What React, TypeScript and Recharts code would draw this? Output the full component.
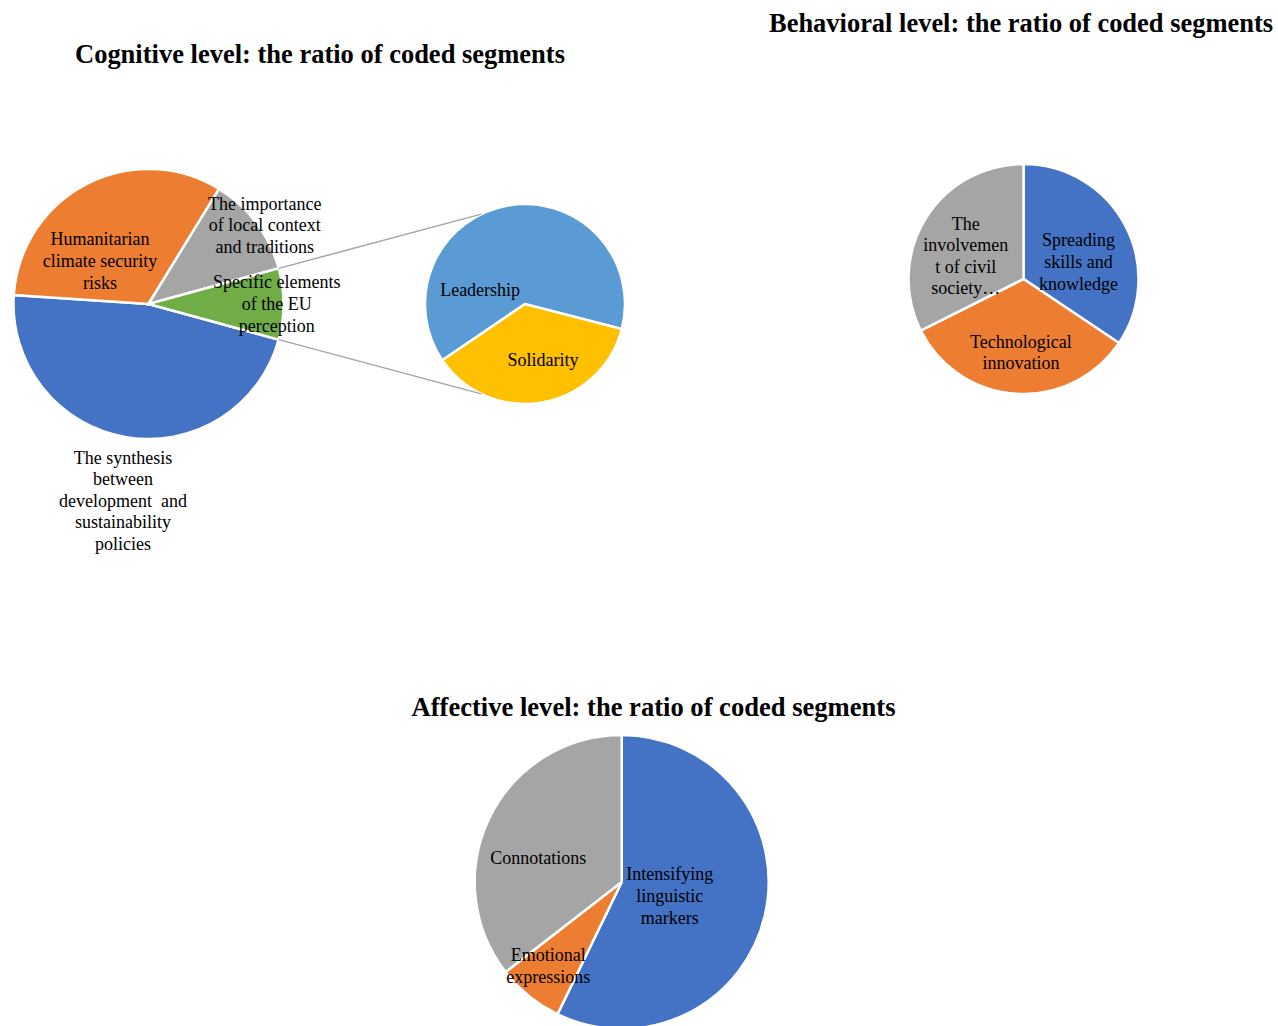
import React from "react"
import { Cell, Pie, PieChart } from "recharts"

// cognitive level (main pie, clockwise from the aggregated slice)
const cognitiveNames = [
  "The synthesis between development and sustainability policies",
  "Humanitarian climate security risks",
  "The importance of local context and traditions",
  "Specific elements of the EU perception",
]
const cognitiveValues = [46.8, 32.7, 12.0, 8.5]

// secondary pie, splits "Specific elements of the EU perception"
const euNames = ["Leadership", "Solidarity"]
const euValues = [5.4, 3.1]

const behavioralNames = [
  "Spreading skills and knowledge",
  "Technological innovation",
  "The involvement of civil society",
]
const behavioralValues = [34.4, 33.2, 32.4]

const affectiveNames = [
  "Intensifying linguistic markers",
  "Emotional expressions",
  "Connotations",
]
const affectiveValues = [57.2, 7.3, 35.5]

const cognitiveLines = [
  ["The synthesis", "between", "development  and", "sustainability", "policies"],
  ["Humanitarian", "climate security", "risks"],
  ["The importance", "of local context", "and traditions"],
  ["Specific elements", "of the EU", "perception"],
]
const euLines = [["Leadership"], ["Solidarity"]]
const behavioralLines = [
  ["Spreading", "skills and", "knowledge"],
  ["Technological", "innovation"],
  ["The", "involvemen", "t of civil", "society…"],
]
const affectiveLines = [
  ["Intensifying", "linguistic", "markers"],
  ["Emotional", "expressions"],
  ["Connotations"],
]

const BLUE = "#4472C4"
const ORANGE = "#ED7D31"
const GRAY = "#A5A5A5"
const GREEN = "#70AD47"
const LIGHT_BLUE = "#5B9BD5"
const YELLOW = "#FFC000"

const FONT = '"Liberation Serif", "Times New Roman", serif'
const LINE_H = 21.6

// label placement: [angle in degrees, distance as fraction of radius]
const cognitiveLabelPos = [[262.6, 1.47], [138.4, 0.48], [34.1, 1.04], [0, 0.95]]
const euLabelPos = [[162.7, 0.47], [-72.2, 0.59]]
const behavioralLabelPos = [[17.3, 0.5], [-92, 0.64], [158.2, 0.54]]
const affectiveLabelPos = [[-16.2, 0.34], [228.9, 0.76], [164, 0.59]]

const RAD = Math.PI / 180

const MAIN = { cx: 148.5, cy: 304, r: 135 }
const SECOND = { cx: 525, cy: 304, r: 100 }
const CONNECT_ANGLE = 116

const toRows = (names: string[], values: number[]) =>
  names.map((name, i) => ({ name, value: values[i] }))

function makeLabel(lines: string[][], pos: number[][], withConnector = -1) {
  return (props: any) => {
    const { cx, cy, outerRadius, index, startAngle, endAngle } = props
    const [ang, dist] = pos[index]
    const x = cx + Math.cos(ang * RAD) * dist * outerRadius
    const y = cy - Math.sin(ang * RAD) * dist * outerRadius
    const rows = lines[index]
    const first = y - ((rows.length - 1) / 2) * LINE_H
    let connector = null
    if (index === withConnector) {
      const a1 = Math.max(startAngle, endAngle)
      const a2 = Math.min(startAngle, endAngle)
      const p1 = [cx + Math.cos(a1 * RAD) * outerRadius, cy - Math.sin(a1 * RAD) * outerRadius]
      const p2 = [cx + Math.cos(a2 * RAD) * outerRadius, cy - Math.sin(a2 * RAD) * outerRadius]
      const q1 = [SECOND.cx + Math.cos(CONNECT_ANGLE * RAD) * SECOND.r, SECOND.cy - Math.sin(CONNECT_ANGLE * RAD) * SECOND.r]
      const q2 = [SECOND.cx + Math.cos(-CONNECT_ANGLE * RAD) * SECOND.r, SECOND.cy - Math.sin(-CONNECT_ANGLE * RAD) * SECOND.r]
      connector = (
        <g>
          <line x1={p1[0]} y1={p1[1]} x2={q1[0]} y2={q1[1]} stroke="#A5A5A5" strokeWidth={1.5} />
          <line x1={p2[0]} y1={p2[1]} x2={q2[0]} y2={q2[1]} stroke="#A5A5A5" strokeWidth={1.5} />
        </g>
      )
    }
    return (
      <g key={`lbl-${index}`}>
        {connector}
        <text
          x={x}
          y={first}
          textAnchor="middle"
          dominantBaseline="central"
          fontFamily={FONT}
          fontSize={18}
          fill="#000"
        >
          {rows.map((t, i) => (
            <tspan key={i} x={x} y={first + i * LINE_H} style={{ whiteSpace: "pre" }}>
              {t}
            </tspan>
          ))}
        </text>
      </g>
    )
  }
}

const cognitiveData = toRows(cognitiveNames, cognitiveValues)
const euData = toRows(euNames, euValues)
const behavioralData = toRows(behavioralNames, behavioralValues)
const affectiveData = toRows(affectiveNames, affectiveValues)

const cognitiveTotal = cognitiveValues.reduce((a, b) => a + b, 0)
const otherHalf = (cognitiveValues[3] / cognitiveTotal) * 180

export default function App() {
  return (
    <div style={{ position: "absolute", left: 0, top: 0, width: 1278, height: 1026, background: "#fff", overflow: "hidden" }}>
      <PieChart width={1278} height={1026} margin={{ top: 0, right: 0, bottom: 0, left: 0 }}>
        <Pie
          data={cognitiveData}
          dataKey="value"
          nameKey="name"
          cx={MAIN.cx}
          cy={MAIN.cy}
          outerRadius={MAIN.r}
          startAngle={360 - otherHalf}
          endAngle={-otherHalf}
          stroke="#fff"
          strokeWidth={2.5}
          labelLine={false}
          label={makeLabel(cognitiveLines, cognitiveLabelPos, 3)}
          isAnimationActive={false}
        >
          {[BLUE, ORANGE, GRAY, GREEN].map((c, i) => (
            <Cell key={i} fill={c} />
          ))}
        </Pie>
        <Pie
          data={euData}
          dataKey="value"
          nameKey="name"
          cx={SECOND.cx}
          cy={SECOND.cy}
          outerRadius={SECOND.r}
          startAngle={-14.5}
          endAngle={345.5}
          stroke="#fff"
          strokeWidth={2.5}
          labelLine={false}
          label={makeLabel(euLines, euLabelPos)}
          isAnimationActive={false}
        >
          {[LIGHT_BLUE, YELLOW].map((c, i) => (
            <Cell key={i} fill={c} />
          ))}
        </Pie>
        <Pie
          data={behavioralData}
          dataKey="value"
          nameKey="name"
          cx={1023.5}
          cy={279}
          outerRadius={115}
          startAngle={90}
          endAngle={-270}
          stroke="#fff"
          strokeWidth={2.5}
          labelLine={false}
          label={makeLabel(behavioralLines, behavioralLabelPos)}
          isAnimationActive={false}
        >
          {[BLUE, ORANGE, GRAY].map((c, i) => (
            <Cell key={i} fill={c} />
          ))}
        </Pie>
        <Pie
          data={affectiveData}
          dataKey="value"
          nameKey="name"
          cx={621.7}
          cy={882}
          outerRadius={147}
          startAngle={90}
          endAngle={-270}
          stroke="#fff"
          strokeWidth={2.5}
          labelLine={false}
          label={makeLabel(affectiveLines, affectiveLabelPos)}
          isAnimationActive={false}
        >
          {[BLUE, ORANGE, GRAY].map((c, i) => (
            <Cell key={i} fill={c} />
          ))}
        </Pie>
      </PieChart>
      <svg width={1278} height={1026} style={{ position: "absolute", left: 0, top: 0, pointerEvents: "none" }}>
        <g fontFamily={FONT} fontWeight="bold" fontSize={27} fill="#000">
          <text x={320} y={63} textAnchor="middle" textLength={490} lengthAdjust="spacingAndGlyphs">
            Cognitive level: the ratio of coded segments
          </text>
          <text x={1273} y={32} textAnchor="end" textLength={504} lengthAdjust="spacingAndGlyphs">
            Behavioral level: the ratio of coded segments
          </text>
          <text x={653.5} y={716} textAnchor="middle" textLength={484} lengthAdjust="spacingAndGlyphs">
            Affective level: the ratio of coded segments
          </text>
        </g>
      </svg>
    </div>
  )
}
